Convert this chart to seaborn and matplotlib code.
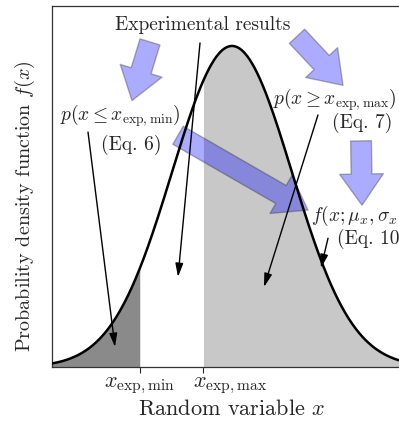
import numpy as np
import pandas as pd
import matplotlib
matplotlib.use("Agg")
import matplotlib.pyplot as plt
from matplotlib.patches import FancyArrowPatch
from matplotlib.transforms import ScaledTranslation
import seaborn as sns

# ---- data ----
MU = 0.0
SIGMA = 1.0
X_RANGE = [-3.0, 3.0]
X_EXP_MIN = -1.533
X_EXP_MAX = -0.483
TICK_POS = [X_EXP_MIN, X_EXP_MAX]
TICK_LABELS = [r"$x_{\mathrm{exp,min}}$", r"$x_{\mathrm{exp,max}}$"]
XLABEL = r"Random variable $x$"
YLABEL = r"Probability density function $f(x)$"

x = np.linspace(X_RANGE[0], X_RANGE[1], 600)
pdf = np.exp(-0.5 * ((x - MU) / SIGMA) ** 2) / (SIGMA * np.sqrt(2 * np.pi))
df = pd.DataFrame({"x": x, "f": pdf})

sns.set_style("ticks")
plt.rcParams["font.family"] = ["cmr10"]
plt.rcParams["mathtext.fontset"] = "cm"
plt.rcParams["axes.unicode_minus"] = False
plt.rcParams["axes.formatter.use_mathtext"] = True

fig = plt.figure(figsize=(3.99, 4.24), dpi=100)
ax = fig.add_axes([52 / 399, 57 / 424, 360 / 399, 361 / 424])

# shaded regions
left = df[df.x <= X_EXP_MIN]
right = df[df.x >= X_EXP_MAX]
ax.fill_between(left.x, 0, left.f, color="#8a8a8a", lw=0, zorder=1)
ax.fill_between(right.x, 0, right.f, color="#c8c8c8", lw=0, zorder=1)

sns.lineplot(data=df, x="x", y="f", color="black", lw=1.8, ax=ax, zorder=5)

ax.set_xlim(*X_RANGE)
ax.set_ylim(0, 0.4486)

# big translucent blue arrows (tail -> tip)
blue_arrows = [
    ((-1.367, 0.404), (-1.667, 0.331)),
    ((1.083, 0.411), (1.85, 0.350)),
    ((2.15, 0.281), (2.167, 0.201)),
    ((-0.9, 0.288), (1.267, 0.195)),
]
for (t, h) in blue_arrows:
    p = FancyArrowPatch(t, h, arrowstyle="simple,tail_width=0.5,head_width=1.05,head_length=0.75",
                        mutation_scale=30, facecolor="blue", edgecolor="#222222", lw=1.0,
                        alpha=0.33, shrinkA=0, shrinkB=0, zorder=3)
    ax.add_patch(p)

# thin annotation arrows
aprops = dict(arrowstyle="-|>,head_length=0.45,head_width=0.13", mutation_scale=18,
              color="black", lw=1.0, shrinkA=0, shrinkB=0)
thin = [
    ((-0.533, 0.4027), (-0.9, 0.1119)),
    ((-2.4, 0.292), (-1.95, 0.0249)),
    ((1.433, 0.3132), (0.533, 0.0994)),
    ((1.6, 0.160), (1.483, 0.123)),
]
for (t, h) in thin:
    ax.annotate("", xy=h, xytext=t, arrowprops=aprops, zorder=6)

fs = 14
ax.text(-0.483, 0.425, "Experimental results", ha="center", va="center", fontsize=fs, zorder=7)
ax.text(-1.867, 0.312, r"$p(x \leq x_{\mathrm{exp,min}})$", ha="center", va="center", fontsize=fs, zorder=7)
ax.text(-1.683, 0.276, "(Eq. 6)", ha="center", va="center", fontsize=fs, zorder=7)
ax.text(0.683, 0.332, r"$p(x \geq x_{\mathrm{exp,max}})$", ha="left", va="center", fontsize=fs, zorder=7)
ax.text(2.167, 0.303, "(Eq. 7)", ha="center", va="center", fontsize=fs, zorder=7)
ax.text(1.317, 0.188, r"$f(x;\mu_x,\sigma_x)$", ha="left", va="center", fontsize=fs, zorder=7)
ax.text(1.75, 0.159, "(Eq. 10)", ha="left", va="center", fontsize=fs, zorder=7)

ax.set_xticks(TICK_POS)
ax.set_xticklabels(TICK_LABELS, fontsize=16)
ax.set_yticks([])
ax.tick_params(axis="x", direction="out", length=4, width=0.8, pad=2)
lbls = ax.get_xticklabels()
lbls[1].set_horizontalalignment("left")
lbls[1].set_transform(lbls[1].get_transform() + ScaledTranslation(-0.10, 0, fig.dpi_scale_trans))
ax.set_xlabel(XLABEL, fontsize=16)
ax.set_ylabel(YLABEL, fontsize=14.5)
ax.xaxis.set_label_coords(0.5, -0.09)
ax.yaxis.set_label_coords(-0.042, 0.446)
for s in ax.spines.values():
    s.set_linewidth(0.9)
    s.set_color("#333333")

fig.savefig("out.png", dpi=100)
